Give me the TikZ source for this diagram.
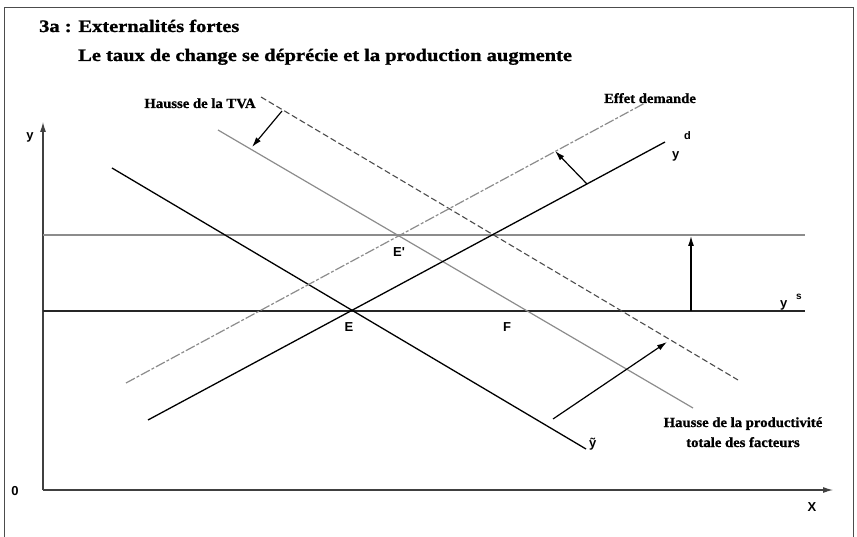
\documentclass[tikz,border=0pt]{standalone}
\usepackage{fontspec}
\setmainfont{Liberation Serif}
\newfontfamily\ttlfont{Liberation Serif}[FakeStretch=1.17,FakeBold=1.2]
\newfontfamily\notefont{Liberation Serif}[FakeStretch=1.05,FakeBold=1]
\newfontfamily\lblfont{Liberation Sans}
\usetikzlibrary{arrows.meta}
\begin{document}
\begin{tikzpicture}[x=1pt,y=-1pt,
  frame/.style={draw=black!70, line width=1pt},
  ax/.style={draw=black!75, line width=1.1pt},
  blk/.style={draw=black, line width=1.3pt},
  gry/.style={draw=black!45, line width=1.2pt},
  dkh/.style={draw=black!85, line width=1.2pt},
  dsh/.style={draw=black!70, line width=1.1pt, dash pattern=on 6pt off 3pt},
  dem/.style={draw=black!45, line width=1.2pt, dash pattern=on 10pt off 2pt on 3pt off 2pt},
  arr/.style={draw=black, line width=1.2pt, -{Latex[length=10pt,width=6pt]}},
  axarr/.style={ax, -{Latex[length=10pt,width=6pt]}},
  ttl/.style={font=\ttlfont\bfseries\fontsize{17.5}{20}\selectfont, anchor=base west, inner sep=0pt},
  note/.style={font=\notefont\bfseries\fontsize{14}{16}\selectfont, anchor=base, inner sep=0pt},
  pt/.style={font=\lblfont\bfseries\fontsize{13}{15}\selectfont, inner sep=0pt},
  sup/.style={font=\lblfont\bfseries\fontsize{11}{13}\selectfont, inner sep=0pt, anchor=base west},
]
\useasboundingbox (0,0) rectangle (857,537);

% frame
\coordinate (f1) at (4,540);
\coordinate (f2) at (4,8);
\coordinate (f3) at (853,8);
\coordinate (f4) at (853,540);
\draw[frame] (f1) -- (f2) -- (f3) -- (f4);

% titles
\node[ttl] (t1) at (39,32) {3a : Externalités fortes};
\node[ttl] (t2) at (78,61) {Le taux de change se déprécie et la production augmente};

% axes
\coordinate (O) at (43,490);
\coordinate (ytop) at (43,122);
\coordinate (xend) at (833,490);
\draw[axarr] (O) -- (ytop);
\draw[axarr] (O) -- (xend);
\node[pt] (ylab) at (30,137) {y};
\node[pt] (zero) at (15,491) {0};
\node[pt] (xlab) at (812,507) {X};

% horizontal lines
\coordinate (h1a) at (43,235);
\coordinate (h1b) at (805,235);
\coordinate (h2a) at (43,311);
\coordinate (h2b) at (805,311);
\draw[gry] (h1a) -- (h1b);
\draw[dkh] (h2a) -- (h2b);

% curves
\coordinate (ty1) at (112,168);
\coordinate (ty2) at (586,449);
\coordinate (g1) at (218,130);
\coordinate (g2) at (693,408);
\coordinate (d1) at (261,97);
\coordinate (d2) at (738,380);
\coordinate (yd1) at (148,420);
\coordinate (yd2) at (665,142);
\coordinate (e1) at (126,383);
\coordinate (e2) at (645,103);
\draw[blk] (ty1) -- (ty2);
\draw[gry] (g1) -- (g2);
\draw[dsh] (d1) -- (d2);
\draw[blk] (yd1) -- (yd2);
\draw[dem] (e1) -- (e2);

% shift arrows
\coordinate (a1) at (282,111);
\coordinate (a2) at (252,147);
\coordinate (b1) at (587,184);
\coordinate (b2) at (555,151);
\coordinate (c1) at (691,311);
\coordinate (c2) at (691,236);
\coordinate (p1) at (553,419);
\coordinate (p2) at (667,342);
\draw[arr] (a1) -- (a2);
\draw[arr] (b1) -- (b2);
\draw[arr] (c1) -- (c2);
\draw[arr] (p1) -- (p2);

% notes
\node[note] (tva) at (200,108) {Hausse de la TVA};
\node[note] (effet) at (650,103) {Effet demande};
\node[note] (prod1) at (743,427) {Hausse de la productivité};
\node[note] (prod2) at (743,447) {totale des facteurs};

% point labels
\node[pt] (E) at (349,327) {E};
\node[pt] (F) at (507,327) {F};
\node[pt] (Ep) at (399,252) {E'};
\node[pt, anchor=base west] (ytl) at (589,447) {ỹ};
\node[pt, anchor=base west] (ysl) at (780,308) {y};
\node[sup, font=\lblfont\bfseries\fontsize{10}{12}\selectfont] (yss) at (796,300) {s};
\node[pt, anchor=base west] (ydl) at (672,159) {y};
\node[sup] (yds) at (684,140) {d};
\end{tikzpicture}
\end{document}
